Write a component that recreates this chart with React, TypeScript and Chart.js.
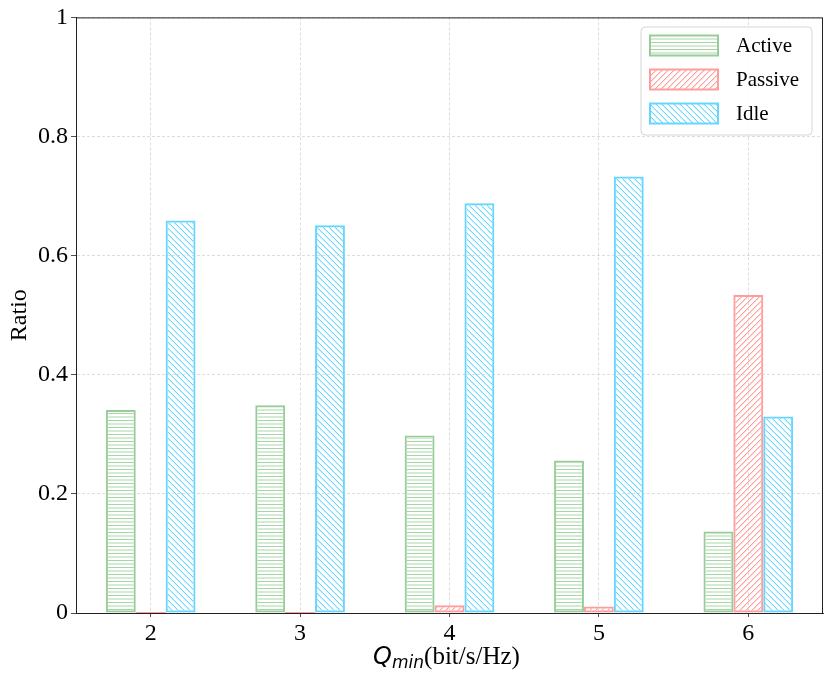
import React, { useEffect, useRef } from 'react';
import { Chart, registerables } from 'chart.js';

Chart.register(...registerables);

const categories = ['2', '3', '4', '5', '6'];
const activeValues = [0.341, 0.349, 0.298, 0.256, 0.137];
const passiveValues = [0, 0, 0.013, 0.011, 0.534];
const idleValues = [0.659, 0.651, 0.688, 0.733, 0.33];
const seriesNames = ['Active', 'Passive', 'Idle'];
const yTickLabels = ['0', '0.2', '0.4', '0.6', '0.8', '1'];
const yTitle = 'Ratio';
const xTitleMain = 'Q';
const xTitleSub = 'min';
const xTitleUnit = '(bit/s/Hz)';

const SERIF = '"Liberation Serif", "Times New Roman", serif';

function makeHatch(kind: string, color: string, soft: string): CanvasPattern | string {
  const c = document.createElement('canvas');
  if (kind === 'h') {
    c.width = 8;
    c.height = 7;
  } else {
    c.width = 6;
    c.height = 6;
  }
  const ctx = c.getContext('2d');
  if (!ctx) return color;
  if (kind === 'h') {
    ctx.fillStyle = color;
    ctx.fillRect(0, 0, 8, 1);
    ctx.fillStyle = soft;
    ctx.fillRect(0, 3, 8, 2);
  } else {
    const s = 6;
    for (let i = 0; i < s; i++) {
      const y = kind === '/' ? s - 1 - i : i;
      ctx.fillStyle = color;
      ctx.fillRect(i, y, 1, 1);
      ctx.fillStyle = soft;
      ctx.fillRect(i, (y + 1) % s, 1, 1);
    }
  }
  return ctx.createPattern(c, 'repeat') || color;
}

const framePlugin = {
  id: 'frameAndExtras',
  afterDatasetsDraw(chart: any) {
    const ctx = chart.ctx;
    chart.data.datasets.forEach((ds: any, di: number) => {
      const meta = chart.getDatasetMeta(di);
      meta.data.forEach((el: any, i: number) => {
        if (ds.data[i] === 0) {
          ctx.save();
          ctx.strokeStyle = ds.borderColor;
          ctx.lineWidth = 2;
          ctx.beginPath();
          ctx.moveTo(el.x - el.width / 2, el.base);
          ctx.lineTo(el.x + el.width / 2, el.base);
          ctx.stroke();
          ctx.restore();
        }
      });
    });
  },
  afterDraw(chart: any) {
    const ctx = chart.ctx;
    const a = chart.chartArea;
    ctx.save();
    ctx.strokeStyle = '#222';
    ctx.lineWidth = 1;
    ctx.strokeRect(a.left + 0.5, a.top + 0.5, a.right - a.left - 1, a.bottom - a.top);

    // x title
    const cx = (a.left + a.right) / 2 - 3;
    const by = 664;
    ctx.fillStyle = '#000';
    ctx.textBaseline = 'alphabetic';
    const fMain = 'oblique 24px "DejaVu Sans"';
    const fSub = 'oblique 17px "DejaVu Sans"';
    const fUnit = '25px ' + SERIF;
    ctx.font = fMain;
    const w1 = ctx.measureText(xTitleMain).width;
    ctx.font = fSub;
    const w2 = ctx.measureText(xTitleSub).width;
    ctx.font = fUnit;
    const w3 = ctx.measureText(xTitleUnit).width;
    let x = cx - (w1 + w2 + w3) / 2;
    ctx.textAlign = 'left';
    ctx.font = fMain;
    ctx.fillText(xTitleMain, x, by);
    x += w1;
    ctx.font = fSub;
    ctx.fillText(xTitleSub, x, by + 4);
    x += w2;
    ctx.font = fUnit;
    ctx.fillText(xTitleUnit, x, by);

    // legend
    const lx = 641, ly = 27, lw = 171, lh = 108, r = 4;
    ctx.beginPath();
    ctx.moveTo(lx + r, ly);
    ctx.lineTo(lx + lw - r, ly);
    ctx.arcTo(lx + lw, ly, lx + lw, ly + r, r);
    ctx.lineTo(lx + lw, ly + lh - r);
    ctx.arcTo(lx + lw, ly + lh, lx + lw - r, ly + lh, r);
    ctx.lineTo(lx + r, ly + lh);
    ctx.arcTo(lx, ly + lh, lx, ly + lh - r, r);
    ctx.lineTo(lx, ly + r);
    ctx.arcTo(lx, ly, lx + r, ly, r);
    ctx.closePath();
    ctx.fillStyle = 'rgba(255,255,255,0.85)';
    ctx.fill();
    ctx.strokeStyle = '#d6d6d6';
    ctx.lineWidth = 1;
    ctx.stroke();

    chart.data.datasets.forEach((ds: any, i: number) => {
      const yc = 45.5 + i * 34;
      ctx.fillStyle = ds.backgroundColor;
      ctx.fillRect(650, yc - 10, 68, 20);
      ctx.strokeStyle = ds.borderColor;
      ctx.lineWidth = 2;
      ctx.strokeRect(650, yc - 10, 68, 20);
      ctx.fillStyle = '#000';
      ctx.font = '21px ' + SERIF;
      ctx.textBaseline = 'middle';
      ctx.textAlign = 'left';
      ctx.fillText(ds.label, 736, yc + 1);
    });
    ctx.restore();
  },
};

export default function App() {
  const ref = useRef<HTMLCanvasElement | null>(null);

  useEffect(() => {
    document.body.style.margin = '0';
    const canvas = ref.current;
    if (!canvas) return;
    const colors = [
      { edge: '#98cc98', hatch: '#a6d6a6', soft: '#d2ebd2', kind: 'h' },
      { edge: '#ff9c9c', hatch: '#ffa0a0', soft: '#ffd4d4', kind: '/' },
      { edge: '#66d6ff', hatch: '#70d8ff', soft: '#c4efff', kind: '\\' },
    ];
    const values = [activeValues, passiveValues, idleValues];
    const chart = new Chart(canvas, {
      type: 'bar',
      data: {
        labels: categories,
        datasets: seriesNames.map((name, i) => ({
          label: name,
          data: values[i],
          backgroundColor: makeHatch(colors[i].kind, colors[i].hatch, colors[i].soft) as any,
          borderColor: colors[i].edge,
          borderWidth: 2,
          borderSkipped: false,
          categoryPercentage: 0.6,
          barPercentage: 1.0,
        })),
      },
      options: {
        animation: false,
        responsive: false,
        devicePixelRatio: 1,
        layout: { padding: { top: 16, right: 7, left: 0, bottom: 0 } },
        plugins: {
          legend: { display: false },
          tooltip: { enabled: false },
          title: { display: false },
        },
        scales: {
          x: {
            type: 'category',
            afterFit: (s: any) => {
              s.height = 69;
            },
            grid: {
              offset: false,
              color: '#d4d4d4',
              lineWidth: 0.8,
              tickLength: 4,
              tickColor: '#222',
              tickBorderDash: [],
              drawOnChartArea: true,
            } as any,
            border: { display: true, color: '#222', width: 1, dash: [3, 2] } as any,
            ticks: {
              color: '#000',
              font: { family: SERIF, size: 24 },
              padding: 2,
            },
          },
          y: {
            min: 0,
            max: 1,
            afterFit: (s: any) => {
              s.width = 76;
            },
            grid: {
              color: '#d4d4d4',
              lineWidth: 0.8,
              tickLength: 5,
              tickColor: '#222',
              tickBorderDash: [],
            } as any,
            border: { display: true, color: '#222', width: 1, dash: [3, 2] } as any,
            ticks: {
              stepSize: 0.2,
              color: '#000',
              font: { family: SERIF, size: 24 },
              padding: 3,
              callback: (_v: any, i: number) => yTickLabels[i],
            },
            title: {
              display: true,
              text: yTitle,
              color: '#000',
              font: { family: SERIF, size: 24 },
              padding: { top: 5, bottom: 0 },
            },
          },
        },
      },
      plugins: [framePlugin],
    });
    return () => chart.destroy();
  }, []);

  return (
    <div style={{ position: 'absolute', left: 0, top: 0, width: 830, height: 682 }}>
      <canvas ref={ref} width={830} height={682} />
    </div>
  );
}
